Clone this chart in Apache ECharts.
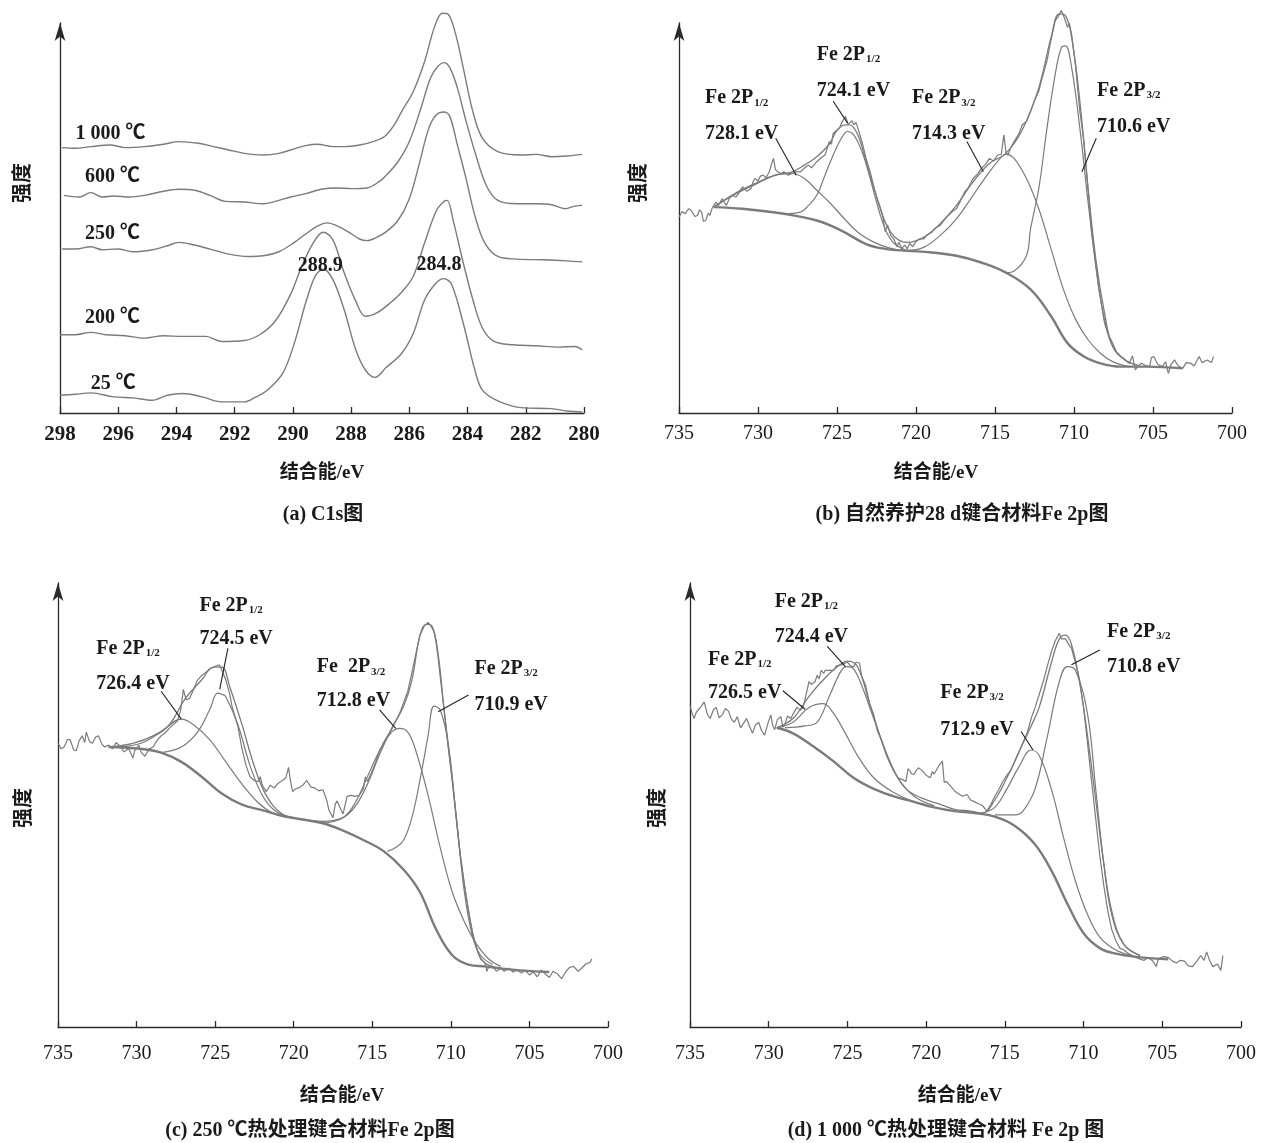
<!DOCTYPE html>
<html><head><meta charset="utf-8">
<script src="https://cdn.jsdelivr.net/npm/echarts@6/dist/echarts.min.js"></script>
<style>html,body{margin:0;padding:0;background:#fff}#c{width:1264px;height:1143px}</style>
</head><body><div id="c"></div>
<script>
// ---------------- DATA (binding energy eV, intensity a.u.) ----------------
// (a) C1s spectra
const a_1000 = [[297.93,790],[297.47,788],[296.94,793],[296.28,798],[295.76,790],[295.1,793],[294.44,800],[293.91,808],[293.25,803],[292.72,793],[292.2,783],[291.67,773],[291.01,768],[290.48,773],[290.08,783],[289.56,796],[289.16,800],[288.63,793],[288.24,793],[287.71,798],[287.25,808],[286.85,823],[286.52,858],[286.26,898],[285.86,958],[285.47,1048],[285.14,1148],[284.87,1190],[284.68,1188],[284.41,1128],[284.15,1028],[283.82,898],[283.49,818],[282.96,778],[282.17,768],[281.64,770],[281.11,763],[280.59,765],[280.06,770]];
const a_600 = [[297.87,648],[297.34,643],[296.94,656],[296.55,643],[296.15,646],[295.63,643],[295.1,648],[294.44,660],[293.91,666],[293.38,663],[292.85,648],[292.33,630],[291.67,628],[291.01,623],[290.48,633],[290.08,643],[289.56,653],[289.03,666],[288.5,670],[287.97,668],[287.45,670],[287.05,688],[286.79,708],[286.39,748],[286.0,808],[285.6,908],[285.27,998],[285.01,1033],[284.81,1043],[284.61,1028],[284.35,968],[284.08,878],[283.75,778],[283.36,678],[282.96,633],[282.3,623],[281.64,623],[281.11,620],[280.65,608],[280.32,616],[280.06,618]];
const a_250 = [[297.93,488],[297.47,488],[296.94,495],[296.55,486],[296.02,488],[295.49,480],[294.83,486],[294.31,498],[293.91,508],[293.38,500],[292.85,488],[292.2,473],[291.54,466],[291.01,468],[290.48,480],[289.95,508],[289.56,533],[289.16,556],[288.83,566],[288.5,558],[288.11,540],[287.71,518],[287.45,513],[287.12,523],[286.79,540],[286.39,573],[286.0,638],[285.67,738],[285.33,848],[285.07,888],[284.81,896],[284.61,883],[284.35,798],[284.08,708],[283.75,588],[283.42,508],[282.96,466],[282.3,458],[281.37,456],[280.59,453],[280.06,450]];
const a_200 = [[298,233],[297.47,233],[296.94,240],[296.42,233],[295.76,230],[295.1,223],[294.44,230],[293.78,228],[292.99,228],[292.46,213],[291.67,216],[291.14,233],[290.61,273],[290.08,353],[289.69,438],[289.29,508],[288.96,538],[288.63,516],[288.24,418],[287.84,333],[287.51,288],[287.12,298],[286.65,328],[286.26,360],[285.86,408],[285.47,508],[285.07,603],[284.81,630],[284.7,633],[284.48,568],[284.15,448],[283.82,338],[283.49,253],[283.09,213],[282.43,203],[281.64,200],[280.85,196],[280.32,198],[280.06,188]];
const a_25 = [[298,53],[297.47,56],[296.94,60],[296.15,48],[295.49,45],[294.83,38],[294.31,53],[293.78,58],[293.12,48],[292.46,33],[291.67,33],[291.27,48],[290.88,68],[290.35,118],[289.95,208],[289.56,328],[289.23,408],[288.96,428],[288.63,398],[288.24,308],[287.84,188],[287.51,128],[287.18,106],[286.79,136],[286.26,178],[285.86,238],[285.47,338],[285.07,388],[284.81,400],[284.55,383],[284.15,268],[283.75,128],[283.49,68],[282.96,36],[282.17,16],[281.11,13],[280.59,6],[280.06,3]];
const a_ticks = [298,296,294,292,290,288,286,284,282,280];
const a_curveLabels = ['1 000 ℃','600 ℃','250 ℃','200 ℃','25 ℃'];
const a_curveLabelPos = [[297.47,838],[297.14,710],[297.14,538],[297.14,288],[296.94,93]];
const a_peakLabels = ['288.9','284.8'];
const a_peakLabelPos = [[289.06,443],[284.98,448]];

// (b) natural curing 28 d, Fe 2p
const b_raw = [[735,583],[734.8,600],[734.61,593],[734.4,608],[734.22,603],[734.0,585],[733.83,588],[733.7,605],[733.57,598],[733.45,570],[733.31,573],[733.15,595],[733.05,588],[732.9,610],[732.66,628],[732.5,618],[732.27,638],[732.1,625],[732.01,618],[731.8,640],[731.62,648],[731.4,643],[731.23,653],[731.1,665],[730.97,673],[730.7,660],[730.45,668],[730.3,690],[730.19,698],[730.0,690],[729.85,705],[729.67,708],[729.5,700],[729.28,718],[729.15,740],[729.02,758],[728.9,725],[728.75,718],[728.55,712],[728.36,718],[728.1,708],[727.84,713],[727.6,718],[727.32,718],[727.1,728],[726.8,738],[726.6,730],[726.28,748],[726.0,760],[725.76,768],[725.6,790],[725.5,808],[725.35,800],[725.24,833],[725.05,840],[724.85,848],[724.7,865],[724.46,883],[724.3,860],[724.2,858],[724.05,870],[723.94,858],[723.8,865],[723.68,848],[723.42,808],[723.16,758],[722.9,718],[722.64,668],[722.4,628],[722.12,588],[721.95,540],[721.8,560],[721.6,528],[721.4,518],[721.2,495],[721.08,508],[720.9,490],[720.7,500],[720.56,488],[720.4,505],[720.2,495],[720.04,508],[719.8,518],[719.52,518],[719.3,530],[719.0,538],[718.8,550],[718.48,558],[718.2,575],[717.96,588],[717.7,600],[717.44,608],[717.2,630],[716.92,658],[716.7,670],[716.39,698],[716.1,712],[715.87,728],[715.6,740],[715.35,758],[715.1,750],[714.83,768],[714.6,770],[714.44,828],[714.3,775],[714.18,768],[714.0,790],[713.79,808],[713.5,830],[713.27,858],[713.01,868],[712.75,898],[712.5,930],[712.23,958],[712.0,1000],[711.71,1048],[711.5,1100],[711.19,1168],[711.0,1180],[710.8,1198],[710.6,1175],[710.41,1148],[710.3,1160],[710.15,1128],[709.89,1028],[709.63,898],[709.37,808],[709.11,668],[708.85,528],[708.46,378],[708.07,268],[707.8,230],[707.55,208],[707.3,180],[707.03,168],[706.8,160],[706.51,148],[706.3,170],[706.12,128],[705.95,140],[705.73,148],[705.5,142],[705.21,138],[705.1,165],[704.95,168],[704.7,145],[704.42,138],[704.2,152],[704.03,118],[703.85,145],[703.64,158],[703.4,140],[703.12,133],[702.9,150],[702.6,148],[702.4,140],[702.08,168],[701.9,150],[701.82,148],[701.56,158],[701.3,150],[701.17,168]];
const b_bg = [[732.8,613],[731,608],[728.36,593],[726.28,573],[724.72,543],[723.16,503],[721.86,488],[720.56,483],[719.0,478],[717.44,468],[715.87,448],[714.31,418],[712.75,368],[711.45,288],[710.41,208],[709.37,168],[708.33,148],[707.03,138],[705.47,138],[703.12,133]];
const b_p7281 = [[732.8,613],[731.49,653],[730.2,683],[728.9,708],[727.84,713],[727.06,698],[726.28,663],[725.5,628],[724.72,588],[723.68,538],[722.64,508],[721.6,490],[720.56,483]];
const b_p7241 = [[728.36,593],[727.32,598],[726.8,618],[726.28,648],[725.76,708],[725.24,768],[724.72,818],[724.33,838],[723.94,828],[723.42,778],[722.9,698],[722.38,608],[721.86,538],[721.34,503],[720.56,483]];
const b_p7143 = [[720.56,483],[719.52,493],[718.48,528],[717.44,578],[716.39,648],[715.35,718],[714.57,763],[714.31,770],[713.79,758],[713.01,698],[712.23,608],[711.45,488],[710.67,368],[709.89,278],[709.11,218],[708.33,178],[707.55,153],[706.51,138]];
const b_p7106 = [[714.31,418],[713.79,423],[713.01,468],[712.75,548],[712.23,668],[711.71,848],[711.19,1008],[710.8,1088],[710.54,1093],[710.15,1028],[709.63,848],[709.11,628],[708.59,428],[708.07,278],[707.55,198],[706.77,158],[705.99,143]];
const b_env = [[732.8,613],[731.5,650],[730.2,680],[728.9,708],[727.84,718],[727.06,738],[726.28,763],[725.5,800],[724.98,843],[724.46,858],[724.2,858],[723.68,828],[723.16,748],[722.38,628],[721.6,538],[720.56,508],[719.52,523],[718.48,563],[717.44,618],[716.39,688],[715.35,743],[714.31,773],[713.27,843],[712.23,968],[711.45,1118],[710.93,1188],[710.54,1183],[710.15,1118],[709.63,928],[709.11,668],[708.59,448],[708.07,298],[707.55,198],[706.77,158],[705.99,143]];
const b_labels = ['Fe 2P|1/2','728.1 eV','Fe 2P|1/2','724.1 eV','Fe 2P|3/2','714.3 eV','Fe 2P|3/2','710.6 eV'];
const b_labelPos = [[733.36,943],[733.36,838],[726.28,1073],[726.28,966],[720.25,943],[720.25,838],[708.54,966],[708.54,858]];
const b_leaders = [[[728.88,818],[727.58,708]],[[725.24,928],[724.33,863]],[[716.78,808],[715.74,718]],[[708.59,818],[709.5,718]]];

// (c) 250 ℃ heat treatment, Fe 2p
const c_raw = [[735,763],[734.8,748],[734.61,753],[734.4,773],[734.23,773],[734.0,745],[733.84,743],[733.65,770],[733.46,783],[733.3,765],[733.2,793],[733.0,768],[732.81,763],[732.6,780],[732.43,783],[732.2,760],[732.04,753],[731.78,758],[731.53,748],[731.3,765],[731.01,753],[730.8,740],[730.5,748],[730.35,735],[730.24,723],[730.1,745],[729.85,758],[729.72,740],[729.47,728],[729.2,748],[728.95,753],[728.7,770],[728.44,783],[728.2,790],[727.92,803],[727.67,813],[727.41,823],[727.2,850],[727.02,908],[726.85,880],[726.64,883],[726.4,905],[726.12,933],[725.86,945],[725.61,953],[725.35,963],[725.09,968],[724.84,973],[724.71,973],[724.58,960],[724.32,933],[724.06,893],[723.93,863],[723.55,808],[723.29,748],[723.03,703],[722.78,673],[722.52,663],[722.26,660],[722.13,673],[722.0,650],[721.75,633],[721.5,650],[721.23,643],[721.0,655],[720.72,663],[720.5,670],[720.33,698],[720.2,660],[720.07,633],[719.9,640],[719.69,643],[719.43,650],[719.17,663],[718.9,645],[718.66,643],[718.4,635],[718.14,638],[717.9,610],[717.76,583],[717.5,563],[717.35,600],[717.24,608],[717.0,585],[716.86,573],[716.6,620],[716.34,623],[716.09,620],[715.83,623],[715.57,640],[715.44,673],[715.31,660],[715.06,683],[714.8,710],[714.54,743],[714.28,765],[714.03,783],[713.77,800],[713.51,823],[713.26,843],[713.0,873],[712.74,903],[712.48,953],[712.23,1003],[711.97,1053],[711.7,1078],[711.58,1083],[711.45,1088],[711.3,1080],[711.2,1073],[711.07,1063],[710.94,1033],[710.81,993],[710.68,943],[710.43,853],[710.17,753],[709.91,663],[709.65,563],[709.4,463],[709.14,383],[708.88,313],[708.62,253],[708.37,213],[708.11,183],[707.85,173],[707.7,150],[707.59,163],[707.34,163],[707.1,150],[706.82,158],[706.6,150],[706.31,158],[706.05,148],[705.79,153],[705.5,145],[705.28,153],[705.0,140],[704.76,148],[704.5,135],[704.25,153],[704.0,143],[703.73,133],[703.5,150],[703.22,143],[702.95,130],[702.7,148],[702.45,160],[702.19,163],[701.9,150],[701.68,158],[701.4,170],[701.16,173],[701.03,183]];
const c_bg = [[731.78,753],[729.72,748],[728.44,738],[727.15,713],[725.86,673],[724.58,628],[723.29,598],[722.0,583],[720.72,568],[719.43,558],[718.14,548],[716.86,528],[715.57,503],[714.28,473],[713.0,423],[711.97,363],[710.94,263],[709.91,193],[708.88,168],[707.85,163],[705.79,153],[703.73,148]];
const c_p7264 = [[731.01,753],[729.72,763],[728.44,793],[727.15,828],[726.38,813],[725.35,773],[724.32,713],[723.29,653],[722.26,603],[721.23,573],[720.2,563]];
const c_p7245 = [[728.44,738],[727.15,753],[726.12,793],[725.35,853],[724.84,898],[724.58,895],[724.32,888],[723.55,813],[722.78,703],[722.0,623],[721.23,583],[720.2,563]];
const c_p7128 = [[718.14,548],[716.86,563],[716.09,603],[715.31,673],[714.54,743],[713.77,793],[713.26,803],[712.74,793],[712.23,743],[711.45,623],[710.68,483],[709.91,363],[709.14,283],[708.37,223],[707.59,183],[706.82,163]];
const c_p7109 = [[714.03,473],[713.51,483],[713.0,503],[712.48,563],[711.97,663],[711.45,783],[711.07,863],[710.68,853],[710.17,763],[709.65,563],[709.14,363],[708.62,243],[708.11,193],[707.34,168]];
const c_env = [[731.78,753],[730.24,763],[728.95,783],[727.92,813],[726.9,883],[725.86,933],[725.09,968],[724.58,968],[724.06,913],[723.29,813],[722.52,703],[721.75,623],[720.72,573],[719.43,558],[718.14,553],[716.86,563],[716.09,593],[715.31,653],[714.54,733],[713.77,803],[713.0,863],[712.48,933],[711.97,1053],[711.58,1083],[711.2,1078],[710.81,1003],[710.43,853],[709.91,663],[709.4,463],[708.88,313],[708.37,213],[707.85,173],[706.82,158]];
const c_labels = ['Fe 2P|1/2','726.4 eV','Fe 2P|1/2','724.5 eV','Fe  2P|3/2','712.8 eV','Fe 2P|3/2','710.9 eV'];
const c_labelPos = [[732.56,1023],[732.56,928],[726.0,1138],[726.0,1048],[718.53,973],[718.53,883],[708.5,968],[708.5,873]];
const c_leaders = [[[728.44,903],[727.15,828]],[[724.19,1018],[724.71,908]],[[714.54,853],[713.51,803]],[[708.88,893],[710.81,848]]];

// (d) 1 000 ℃ heat treatment, Fe 2p
const d_raw = [[735,868],[734.87,848],[734.74,833],[734.6,850],[734.49,853],[734.3,865],[734.1,878],[733.9,845],[733.72,833],[733.5,858],[733.33,863],[733.15,835],[732.95,843],[732.75,860],[732.56,853],[732.35,830],[732.18,823],[732.0,838],[731.79,808],[731.6,820],[731.41,833],[731.2,810],[731.03,793],[730.85,815],[730.64,823],[730.45,800],[730.26,788],[730.05,820],[729.87,843],[729.75,815],[729.62,803],[729.45,830],[729.23,838],[729.1,810],[728.97,818],[728.8,840],[728.59,833],[728.46,845],[728.21,863],[728.0,855],[727.82,863],[727.69,885],[727.44,933],[727.3,925],[727.18,928],[727.05,933],[726.92,950],[726.8,940],[726.67,963],[726.5,955],[726.41,963],[726.15,963],[725.9,963],[725.7,975],[725.64,970],[725.38,978],[725.13,983],[725.0,985],[724.8,975],[724.62,973],[724.45,985],[724.36,983],[724.23,983],[724.1,948],[723.85,923],[723.59,873],[723.33,843],[723.1,800],[722.82,773],[722.56,738],[722.31,713],[722.05,690],[721.79,673],[721.5,668],[721.28,663],[721.15,698],[721.03,693],[720.9,683],[720.77,683],[720.5,700],[720.26,693],[720.0,680],[719.74,673],[719.6,690],[719.49,683],[719.23,703],[718.97,718],[718.85,660],[718.72,663],[718.5,653],[718.21,638],[717.95,630],[717.69,623],[717.4,628],[717.18,613],[716.92,608],[716.67,603],[716.41,598],[716.15,583],[715.9,600],[715.64,623],[715.4,640],[715.13,663],[714.87,680],[714.62,693],[714.36,718],[714.1,743],[713.85,768],[713.59,793],[713.33,833],[713.08,863],[712.82,898],[712.56,933],[712.31,973],[712.05,1013],[711.8,1043],[711.54,1063],[711.4,1048],[711.28,1053],[711.15,1048],[711.03,1045],[710.9,1030],[710.77,1023],[710.51,983],[710.26,938],[710.0,863],[709.74,763],[709.49,663],[709.23,563],[708.97,463],[708.72,383],[708.46,313],[708.21,263],[707.95,233],[707.7,213],[707.44,208],[707.2,200],[706.92,193],[706.65,188],[706.41,183],[706.15,180],[705.9,188],[705.6,178],[705.38,163],[705.25,185],[705.13,183],[704.9,190],[704.62,188],[704.35,178],[704.1,173],[703.85,180],[703.59,178],[703.35,165],[703.08,163],[702.8,178],[702.56,193],[702.35,180],[702.18,203],[702.0,180],[701.79,163],[701.5,170],[701.28,153],[701.15,193]];
const d_bg = [[729.49,808],[728.46,793],[727.18,758],[725.9,718],[724.62,673],[723.33,643],[722.05,623],[720.77,608],[719.49,593],[718.21,583],[716.92,578],[715.64,568],[714.36,543],[713.08,493],[712.05,423],[711.03,333],[710.0,253],[708.97,213],[707.95,198],[706.41,188],[704.62,183]];
const d_p7265 = [[729.49,808],[728.46,823],[727.44,863],[726.54,873],[725.9,848],[725.13,793],[724.36,733],[723.33,673],[722.05,633],[720.77,608]];
const d_p7244 = [[728.97,808],[727.69,813],[726.92,823],[726.15,893],[725.38,963],[725.0,973],[724.62,968],[724.1,923],[723.33,833],[722.56,743],[721.79,673],[720.77,623],[719.49,598]];
const d_p7129 = [[716.41,578],[715.64,593],[714.87,643],[714.1,703],[713.33,748],[712.82,733],[712.05,643],[711.28,513],[710.51,393],[709.74,303],[708.97,243],[707.95,208],[706.92,193]];
const d_p7108 = [[715.64,573],[714.36,573],[713.85,583],[713.08,643],[712.31,783],[711.54,933],[711.03,973],[710.51,963],[709.74,843],[709.23,643],[708.72,443],[708.21,303],[707.44,223],[706.41,193]];
const d_env = [[729.49,808],[728.46,833],[727.44,893],[726.41,943],[725.64,973],[725.0,988],[724.36,973],[723.59,873],[722.82,773],[722.05,693],[721.28,643],[720.26,618],[719.23,603],[718.21,588],[717.18,583],[716.41,578],[715.64,613],[714.87,673],[714.1,743],[713.33,813],[712.82,863],[712.05,983],[711.54,1048],[711.15,1058],[710.77,1033],[710.26,933],[709.74,783],[709.23,613],[708.72,443],[708.21,313],[707.44,223],[706.41,193]];
const d_labels = ['Fe 2P|1/2','724.4 eV','Fe 2P|1/2','726.5 eV','Fe 2P|3/2','712.9 eV','Fe 2P|3/2','710.8 eV'];
const d_labelPos = [[729.62,1153],[729.62,1058],[733.85,998],[733.85,908],[719.1,908],[719.1,808],[708.51,1073],[708.51,978]];
const d_leaders = [[[726.28,1028],[725.13,973]],[[729.1,908],[727.69,858]],[[713.97,798],[713.21,748]],[[708.97,1018],[710.77,978]]];

const fe_ticks = [735,730,725,720,715,710,705,700];
const captions = ['(a) C1s图','(b) 自然养护28 d键合材料Fe 2p图','(c) 250 ℃热处理键合材料Fe 2p图','(d) 1 000 ℃热处理键合材料 Fe 2p 图'];
const xName = '结合能/eV';
const yName = '强度';

// ---------------- LAYOUT / STYLE ----------------
const GRAY = '#7b7b7b';
const AXIS = '#2a2a2a';
const TXT = '#1a1a1a';
const SERIF = "'Liberation Serif','Times New Roman',serif";
const MIX = "'Liberation Serif','Noto Sans CJK SC',serif";

const panels = [
  {left:60, top:23, width:524, height:390, min:280, max:298, interval:2, ymax:1161, fs:21, fw:'bold', margin:11, xname:[322,473], yname:[21,183], cap:[323,515]},
  {left:679, top:23, width:553, height:390, min:700, max:735, interval:5, ymax:1161, fs:20, fw:'normal', margin:11, xname:[936,473], yname:[637,183], cap:[962,515]},
  {left:58, top:583, width:550, height:444, min:700, max:735, interval:5, ymax:1194, fs:20, fw:'normal', margin:17, xname:[342,1096], yname:[22,808], cap:[310,1131]},
  {left:690, top:583, width:551, height:444, min:700, max:735, interval:5, ymax:1199, fs:20, fw:'normal', margin:17, xname:[960,1096], yname:[656,808], cap:[946,1131]}
];

const grid = [], xAxis = [], yAxis = [], series = [], graphic = [];
panels.forEach((p, i) => {
  grid.push({left:p.left, top:p.top, width:p.width, height:p.height, containLabel:false});
  xAxis.push({type:'value', gridIndex:i, min:p.min, max:p.max, interval:p.interval, inverse:true,
    axisLine:{show:true, onZero:false, lineStyle:{color:AXIS, width:1.3}},
    axisTick:{show:true, inside:true, length:6, lineStyle:{color:AXIS, width:1.3}},
    axisLabel:{show:true, margin:p.margin, color:TXT, fontSize:p.fs, fontWeight:p.fw, fontFamily:SERIF, showMinLabel:true, showMaxLabel:true},
    splitLine:{show:false}});
  yAxis.push({type:'value', gridIndex:i, min:0, max:p.ymax,
    axisLine:{show:true, onZero:false, symbol:['none','arrow'], symbolSize:[8,18], lineStyle:{color:AXIS, width:1.3}},
    axisTick:{show:false}, axisLabel:{show:false}, splitLine:{show:false}});
  graphic.push({type:'text', x:p.xname[0], y:p.xname[1], style:{text:xName, fontSize:19, fontWeight:'bold', fontFamily:MIX, fill:TXT, align:'center', verticalAlign:'middle'}});
  graphic.push({type:'text', x:p.yname[0], y:p.yname[1], rotation:Math.PI/2, style:{text:yName, fontSize:20, fontWeight:'bold', fontFamily:"'Noto Sans CJK SC',sans-serif", fill:TXT, align:'center', verticalAlign:'middle'}});
  graphic.push({type:'text', x:p.cap[0], y:p.cap[1], style:{text:captions[i], fontSize:20, fontWeight:'bold', fontFamily:MIX, fill:TXT, align:'center', verticalAlign:'middle'}});
});

function line(data, gi, opt) {
  opt = opt || {};
  return {type:'line', xAxisIndex:gi, yAxisIndex:gi, data:data, symbol:'none', showSymbol:false,
    smooth:opt.smooth || false, clip:false, silent:true, animation:false, z:opt.z || 2,
    lineStyle:{color:opt.color || GRAY, width:opt.width || 1.3}};
}
const richStyles = {
  m:{fontSize:20, fontWeight:'bold', fontFamily:MIX, color:TXT, lineHeight:24, verticalAlign:'bottom'},
  s:{fontSize:11, fontWeight:'bold', fontFamily:SERIF, color:TXT, lineHeight:12, padding:[13,0,0,1], verticalAlign:'bottom'}
};
function labelSeries(texts, pos, gi, position) {
  return {type:'scatter', xAxisIndex:gi, yAxisIndex:gi, symbolSize:0, silent:true, animation:false, z:5, clip:false,
    itemStyle:{opacity:1}, emphasis:{disabled:true},
    data: texts.map((t, k) => {
      const parts = t.split('|');
      const fmt = parts.length > 1 ? '{m|' + parts[0] + '}{s|' + parts[1] + '}' : '{m|' + parts[0] + '}';
      return {value:pos[k], label:{show:true, position:position || 'right', distance:0, color:TXT, opacity:1, formatter:fmt, rich:richStyles}};
    })};
}
function leaders(arr, gi) {
  return arr.map(seg => line(seg, gi, {color:'#222', width:1.1, z:4}));
}

// (a)
[a_1000, a_600, a_250, a_200, a_25].forEach(d => series.push(line(d, 0, {smooth:0.35, width:1.4})));
series.push(labelSeries(a_curveLabels, a_curveLabelPos, 0, 'right'));
series.push(labelSeries(a_peakLabels, a_peakLabelPos, 0, 'inside'));
// (b)
series.push(line(b_raw, 1, {width:1.2}));
series.push(line(b_env, 1, {smooth:0.4, width:1.3}));
[b_p7281, b_p7241, b_p7143, b_p7106].forEach(d => series.push(line(d, 1, {smooth:0.4, width:1.2})));
series.push(line(b_bg, 1, {smooth:0.4, width:2.4}));
series.push(labelSeries(b_labels, b_labelPos, 1));
leaders(b_leaders, 1).forEach(s => series.push(s));
// (c)
series.push(line(c_raw, 2, {width:1.2}));
series.push(line(c_env, 2, {smooth:0.4, width:1.3}));
[c_p7264, c_p7245, c_p7128, c_p7109].forEach(d => series.push(line(d, 2, {smooth:0.4, width:1.2})));
series.push(line(c_bg, 2, {smooth:0.4, width:2.4}));
series.push(labelSeries(c_labels, c_labelPos, 2));
leaders(c_leaders, 2).forEach(s => series.push(s));
// (d)
series.push(line(d_raw, 3, {width:1.2}));
series.push(line(d_env, 3, {smooth:0.4, width:1.3}));
[d_p7265, d_p7244, d_p7129, d_p7108].forEach(d => series.push(line(d, 3, {smooth:0.4, width:1.2})));
series.push(line(d_bg, 3, {smooth:0.4, width:2.4}));
series.push(labelSeries(d_labels, d_labelPos, 3));
leaders(d_leaders, 3).forEach(s => series.push(s));

const chart = echarts.init(document.getElementById('c'), null, {renderer:'canvas'});
chart.setOption({animation:false, backgroundColor:'#ffffff', grid, xAxis, yAxis, series, graphic});
</script></body></html>
